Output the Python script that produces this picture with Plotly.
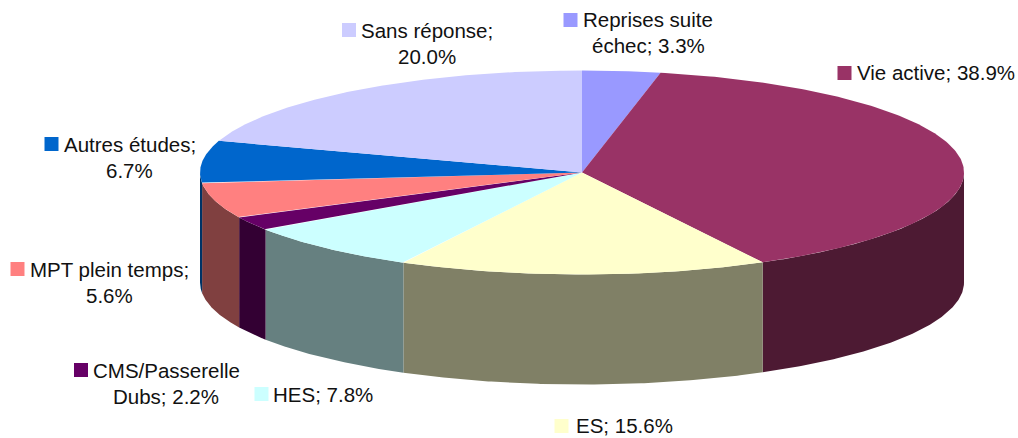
import numpy as np
import plotly.graph_objects as go

categories = ["Reprises suite échec", "Vie active", "ES", "HES", "CMS/Passerelle Dubs",
              "MPT plein temps", "Autres études", "Sans réponse"]
values = [3.3, 38.9, 15.6, 7.8, 2.2, 5.6, 6.7, 20.0]
top_colors = ["#9999FF", "#993366", "#FFFFCC", "#CCFFFF", "#660066", "#FF8080", "#0066CC", "#CCCCFF"]
side_colors = ["#4D4D80", "#4D1A33", "#808066", "#668080", "#330033", "#804040", "#003366", "#666680"]
label_lines = [["Reprises suite", "échec; 3.3%"], ["Vie active; 38.9%"], ["ES; 15.6%"], ["HES; 7.8%"],
               ["CMS/Passerelle", "Dubs; 2.2%"], ["MPT plein temps;", "5.6%"], ["Autres études;", "6.7%"],
               ["Sans réponse;", "20.0%"]]
label_x = [648, 936, 624, 323, 166, 109, 129.5, 427]
label_y = [19, 72, 425, 394, 370, 269, 144, 30]
key_x = [570.5, 844.5, 561.5, 261.5, 81, 17.5, 51.5, 349]
key_y = [20, 73, 426, 394, 370, 269, 144, 30]

CX, CY, RX, RY, DEPTH = 582, 172.5, 382, 102, 110
LINE_GAP = 26.5


def ex(t):
    return CX + RX * np.sin(t)


def ey(t):
    return CY - RY * np.cos(t)


fig = go.Figure()
edges = np.cumsum([0] + values) / sum(values) * 2 * np.pi

# Side walls: only the part of each slice facing the viewer
for i in range(len(values)):
    a, b = max(edges[i], np.pi / 2), min(edges[i + 1], 3 * np.pi / 2)
    if b <= a:
        continue
    t = np.linspace(a, b, 120)
    x = np.concatenate([ex(t), ex(t[::-1])])
    y = np.concatenate([ey(t), ey(t[::-1]) + DEPTH])
    fig.add_trace(go.Scatter(x=x, y=y, fill="toself", mode="lines", line=dict(width=0),
                             fillcolor=side_colors[i], hoverinfo="skip", showlegend=False))

# Top faces
for i, name in enumerate(categories):
    t = np.linspace(edges[i], edges[i + 1], 200)
    x = np.concatenate([[CX], ex(t), [CX]])
    y = np.concatenate([[CY], ey(t), [CY]])
    fig.add_trace(go.Scatter(x=x, y=y, fill="toself", mode="lines", line=dict(width=0),
                             fillcolor=top_colors[i], name=name, hoverinfo="name", showlegend=False))

# Legend keys beside the labels
fig.add_trace(go.Scatter(x=key_x, y=key_y, mode="markers", hoverinfo="skip", showlegend=False,
                         marker=dict(symbol="square", size=14, color=top_colors, line=dict(width=0))))

annotations = []
for lines, lx, ly in zip(label_lines, label_x, label_y):
    for k, text in enumerate(lines):
        annotations.append(dict(x=lx, y=ly + k * LINE_GAP, text=text, showarrow=False,
                                xanchor="center", yanchor="middle", xref="x", yref="y",
                                font=dict(family="Liberation Sans", size=20.5, color="#111111")))

fig.update_layout(
    width=1018, height=438, margin=dict(l=0, r=0, t=0, b=0),
    paper_bgcolor="white", plot_bgcolor="white", annotations=annotations,
    xaxis=dict(range=[0, 1018], visible=False, fixedrange=True),
    yaxis=dict(range=[438, 0], visible=False, fixedrange=True),
)
fig.write_html("out.html", config={"displayModeBar": False},
               post_script="document.body.style.margin='0';document.body.style.overflow='hidden';")
